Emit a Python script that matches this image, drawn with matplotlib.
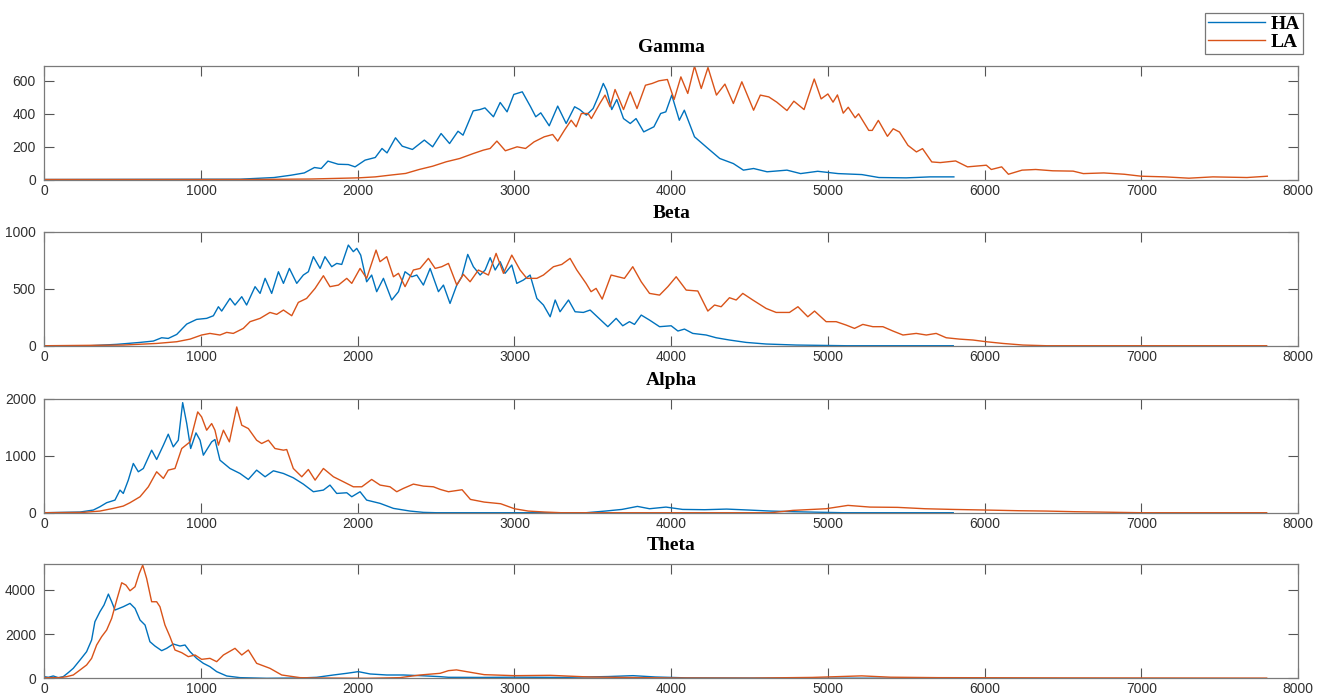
import matplotlib
matplotlib.use('Agg')
import matplotlib.pyplot as plt

# points as (sample, power)
gamma_ha = [(0, 0), (1250, 2), (1466, 12), (1573, 26), (1659, 40), (1724, 73), (1767, 67), (1810, 112),
            (1875, 93), (1940, 91), (1983, 77), (2047, 118), (2112, 134), (2155, 189), (2187, 162), (2241, 254),
            (2284, 203), (2349, 183), (2425, 240), (2478, 199), (2532, 280), (2586, 219), (2640, 294), (2672, 270),
            (2737, 418), (2780, 426), (2812, 436), (2866, 382), (2909, 469), (2953, 412), (2996, 518), (3050, 534),
            (3103, 443), (3136, 382), (3168, 406), (3222, 327), (3276, 447), (3330, 341), (3384, 443), (3416, 426),
            (3459, 392), (3502, 432), (3534, 503), (3567, 585), (3588, 544), (3621, 426), (3653, 487), (3696, 371),
            (3739, 341), (3776, 371), (3825, 290), (3890, 321), (3933, 402), (3966, 412), (4004, 514), (4052, 361),
            (4084, 422), (4149, 260), (4235, 189), (4310, 128), (4397, 97), (4461, 57), (4526, 67), (4612, 47),
            (4739, 57), (4826, 36), (4935, 50), (5065, 36), (5217, 30), (5326, 12), (5500, 10), (5652, 16), (5804, 16)]
gamma_la = [(0, 0), (1300, 0), (1700, 3), (2004, 10), (2112, 16), (2220, 28), (2306, 37), (2392, 61), (2478, 81),
            (2565, 108), (2651, 128), (2737, 158), (2802, 179), (2845, 189), (2888, 234), (2942, 175), (3017, 199),
            (3071, 189), (3125, 229), (3190, 260), (3244, 274), (3276, 234), (3319, 300), (3362, 361), (3394, 321),
            (3427, 402), (3470, 402), (3491, 371), (3545, 463), (3578, 514), (3610, 443), (3642, 548), (3696, 426),
            (3739, 534), (3782, 432), (3836, 574), (3879, 585), (3922, 601), (3976, 609), (4019, 487), (4062, 625),
            (4106, 524), (4149, 690), (4192, 554), (4235, 682), (4289, 514), (4343, 581), (4397, 463), (4451, 595),
            (4526, 422), (4569, 514), (4623, 503), (4674, 471), (4739, 420), (4783, 477), (4848, 426), (4913, 612),
            (4957, 491), (5000, 521), (5033, 471), (5061, 515), (5098, 404), (5130, 440), (5174, 376), (5196, 400),
            (5261, 299), (5283, 299), (5322, 360), (5380, 263), (5417, 309), (5457, 289), (5511, 208), (5565, 168),
            (5604, 188), (5663, 107), (5717, 103), (5815, 113), (5891, 77), (6011, 87), (6043, 61), (6109, 77),
            (6152, 32), (6239, 57), (6326, 61), (6435, 53), (6565, 51), (6630, 36), (6761, 40), (6891, 32),
            (7000, 20), (7152, 16), (7304, 8), (7457, 16), (7674, 12), (7804, 20)]

beta_ha = [(0, 0), (291, 0), (462, 12), (611, 29), (696, 41), (749, 70), (791, 64), (845, 99), (909, 190),
           (972, 231), (1036, 240), (1079, 263), (1111, 342), (1132, 304), (1185, 415), (1217, 357), (1260, 430),
           (1291, 357), (1345, 518), (1377, 459), (1409, 591), (1451, 459), (1494, 649), (1526, 547), (1564, 678),
           (1611, 547), (1653, 620), (1685, 649), (1717, 781), (1760, 678), (1791, 781), (1834, 693), (1866, 722),
           (1898, 713), (1940, 883), (1972, 825), (1994, 854), (2019, 795), (2057, 561), (2089, 620), (2121, 474),
           (2164, 591), (2217, 401), (2260, 474), (2302, 649), (2345, 605), (2377, 620), (2419, 532), (2462, 678),
           (2515, 474), (2547, 532), (2589, 371), (2632, 532), (2664, 605), (2702, 801), (2738, 693), (2781, 620),
           (2813, 664), (2845, 772), (2877, 664), (2909, 737), (2940, 635), (2983, 708), (3015, 547), (3057, 576),
           (3100, 620), (3143, 415), (3185, 357), (3228, 254), (3260, 401), (3291, 298), (3345, 401), (3387, 298),
           (3440, 292), (3483, 313), (3596, 167), (3649, 240), (3691, 175), (3734, 211), (3766, 187), (3809, 269),
           (3862, 225), (3926, 167), (4000, 175), (4043, 129), (4085, 146), (4138, 108), (4223, 94), (4287, 70),
           (4372, 50), (4479, 29), (4606, 15), (4798, 6), (5117, 0), (5800, 0)]
beta_la = [(0, 0), (504, 6), (717, 20), (845, 35), (930, 58), (1004, 94), (1057, 108), (1121, 94), (1164, 117),
           (1206, 108), (1270, 152), (1313, 211), (1377, 240), (1440, 292), (1483, 275), (1526, 313), (1579, 263),
           (1621, 380), (1674, 415), (1728, 503), (1781, 614), (1823, 518), (1877, 532), (1930, 591), (1962, 547),
           (2015, 678), (2057, 591), (2117, 839), (2142, 737), (2185, 781), (2228, 605), (2260, 635), (2302, 518),
           (2355, 664), (2398, 678), (2451, 766), (2494, 678), (2536, 693), (2579, 722), (2632, 532), (2674, 626),
           (2717, 561), (2770, 664), (2834, 620), (2883, 810), (2930, 635), (2983, 795), (3036, 664), (3079, 591),
           (3143, 591), (3185, 620), (3249, 693), (3302, 713), (3355, 766), (3398, 664), (3457, 547), (3489, 474),
           (3521, 503), (3560, 409), (3617, 620), (3660, 605), (3702, 591), (3755, 693), (3809, 561), (3862, 459),
           (3926, 444), (3979, 518), (4032, 605), (4096, 488), (4170, 480), (4234, 304), (4277, 357), (4319, 342),
           (4372, 421), (4415, 401), (4457, 459), (4521, 401), (4606, 327), (4670, 292), (4755, 292), (4809, 342),
           (4872, 254), (4915, 304), (4989, 211), (5053, 211), (5117, 181), (5170, 152), (5223, 187), (5287, 167),
           (5351, 167), (5415, 129), (5479, 94), (5564, 108), (5628, 94), (5691, 108), (5755, 70), (5840, 58),
           (5926, 50), (6011, 35), (6117, 20), (6245, 6), (6394, 0), (7800, 0)]

alpha_ha = [(0, 0), (228, 12), (313, 47), (355, 105), (398, 176), (451, 222), (483, 398), (504, 339), (536, 573),
            (568, 866), (600, 720), (632, 778), (685, 1100), (717, 936), (760, 1188), (791, 1381), (823, 1158),
            (855, 1275), (883, 1936), (909, 1568), (934, 1129), (968, 1404), (994, 1275), (1015, 1012), (1068, 1246),
            (1089, 1287), (1121, 924), (1185, 778), (1249, 690), (1302, 585), (1355, 749), (1409, 632), (1462, 737),
            (1526, 690), (1589, 614), (1653, 503), (1717, 369), (1781, 398), (1823, 486), (1866, 339), (1930, 351),
            (1962, 281), (2015, 369), (2057, 222), (2143, 164), (2228, 76), (2334, 29), (2419, 6), (2500, 0),
            (3457, 0), (3580, 29), (3686, 58), (3785, 111), (3862, 70), (3967, 99), (4073, 58), (4214, 53),
            (4354, 64), (4495, 47), (4636, 29), (4777, 18), (4988, 6), (5100, 0), (5800, 0)]
alpha_la = [(0, 0), (249, 6), (355, 29), (440, 76), (504, 117), (547, 176), (611, 281), (664, 456), (717, 720),
            (760, 603), (791, 749), (834, 778), (877, 1129), (930, 1246), (979, 1773), (1004, 1685), (1036, 1451),
            (1068, 1568), (1089, 1451), (1111, 1188), (1143, 1451), (1181, 1246), (1228, 1860), (1260, 1539),
            (1302, 1480), (1355, 1275), (1387, 1217), (1430, 1275), (1472, 1129), (1526, 1100), (1547, 1111),
            (1589, 778), (1643, 632), (1685, 760), (1728, 573), (1781, 778), (1845, 632), (1909, 544), (1972, 456),
            (2026, 456), (2089, 585), (2143, 486), (2206, 456), (2249, 369), (2291, 427), (2355, 503), (2419, 468),
            (2483, 456), (2526, 410), (2579, 369), (2666, 404), (2719, 234), (2807, 187), (2912, 158), (3000, 70),
            (3088, 29), (3193, 12), (3299, 0), (4636, 0), (4777, 41), (4988, 70), (5128, 129), (5269, 99),
            (5445, 94), (5620, 70), (5796, 58), (6008, 47), (6219, 35), (6395, 29), (6571, 18), (6852, 6),
            (7000, 0), (7800, 0)]

theta_ha = [(0, 75), (26, 45), (57, 105), (89, 30), (121, 75), (153, 256), (185, 451), (228, 827), (270, 1203),
            (302, 1730), (323, 2557), (355, 3008), (381, 3309), (409, 3805), (430, 3459), (451, 3083), (504, 3234),
            (547, 3384), (579, 3158), (611, 2632), (643, 2406), (674, 1654), (706, 1459), (749, 1248), (781, 1354),
            (823, 1549), (866, 1459), (898, 1504), (930, 1203), (972, 902), (1015, 677), (1057, 526), (1100, 301),
            (1164, 105), (1249, 30), (1419, 0), (1632, 15), (1738, 45), (1845, 150), (1930, 226), (2004, 301),
            (2079, 196), (2185, 150), (2291, 150), (2398, 120), (2526, 75), (2579, 45), (2800, 40), (3000, 50),
            (3300, 40), (3600, 80), (3756, 120), (3900, 60), (4100, 20), (4500, 10), (5000, 5), (5800, 0)]
theta_la = [(0, 30), (100, 30), (143, 75), (185, 150), (228, 376), (270, 602), (302, 902), (334, 1504),
            (366, 1880), (398, 2181), (430, 2707), (462, 3534), (494, 4316), (521, 4211), (547, 3955), (579, 4136),
            (606, 4738), (628, 5114), (653, 4512), (685, 3459), (717, 3459), (738, 3234), (770, 2406), (802, 1880),
            (834, 1278), (877, 1158), (919, 978), (962, 1053), (1004, 857), (1057, 902), (1100, 752), (1143, 1053),
            (1217, 1354), (1260, 1053), (1302, 1278), (1355, 677), (1440, 451), (1515, 150), (1632, 30), (1738, 15),
            (2057, 0), (2270, 30), (2398, 150), (2526, 226), (2579, 346), (2630, 380), (2807, 165), (3000, 120),
            (3229, 135), (3475, 60), (3700, 40), (4000, 15), (4500, 10), (4900, 40), (5216, 110), (5400, 50),
            (5700, 30), (6500, 20), (7800, 10)]

titles = ['Gamma', 'Beta', 'Alpha', 'Theta']
series = [(gamma_ha, gamma_la), (beta_ha, beta_la), (alpha_ha, alpha_la), (theta_ha, theta_la)]
ylims = [693, 1000, 2000, 5150]
yticks = [[0, 200, 400, 600], [0, 500, 1000], [0, 1000, 2000], [0, 2000, 4000]]
xticks = [0, 1000, 2000, 3000, 4000, 5000, 6000, 7000, 8000]
legend_labels = ['HA', 'LA']

blue = '#0072BD'
orange = '#D95319'
edge = '#7a7a7a'

plt.rcParams['font.family'] = 'Liberation Sans'

fig = plt.figure(figsize=(13.26, 6.99), dpi=100)

# axes boxes in figure fractions (left, bottom, width, height)
boxes = [(0.0334, 0.7432, 0.9455, 0.1628),
         (0.0334, 0.5054, 0.9455, 0.1631),
         (0.0334, 0.2665, 0.9455, 0.1627),
         (0.0334, 0.0296, 0.9455, 0.1631)]

handles = []
for i in range(4):
    ax = fig.add_axes(boxes[i])
    ha, la = series[i]
    l1, = ax.plot([p[0] for p in ha], [p[1] for p in ha], color=blue, lw=1.0)
    l2, = ax.plot([p[0] for p in la], [p[1] for p in la], color=orange, lw=1.0)
    if i == 0:
        handles = [l1, l2]

    ax.set_xlim(0, 8000)
    ax.set_ylim(0, ylims[i])
    ax.set_xticks(xticks)
    ax.set_yticks(yticks[i])
    ax.tick_params(direction='in', top=True, right=True, length=7.5, width=0.8,
                   color='#555555', labelcolor='#303030', labelsize=10)
    ax.tick_params(axis='y', pad=6)
    ax.tick_params(axis='x', pad=3)
    for sp in ax.spines.values():
        sp.set_color(edge)
        sp.set_linewidth(0.9)
    ax.set_title(titles[i], fontfamily='Liberation Serif', fontweight='bold',
                 fontsize=14, pad=10)

leg = fig.legend(handles, legend_labels, loc='upper right',
                 bbox_to_anchor=(1302.7 / 1326, 1 - 12.7 / 699),
                 borderaxespad=0, frameon=True, fancybox=False,
                 handlelength=2.9, handletextpad=0.3, labelspacing=0.0,
                 borderpad=0.15,
                 prop={'family': 'Liberation Serif', 'weight': 'bold', 'size': 14})
leg.get_frame().set_edgecolor('#555555')
leg.get_frame().set_linewidth(0.9)

plt.savefig('out.png', dpi=100)
